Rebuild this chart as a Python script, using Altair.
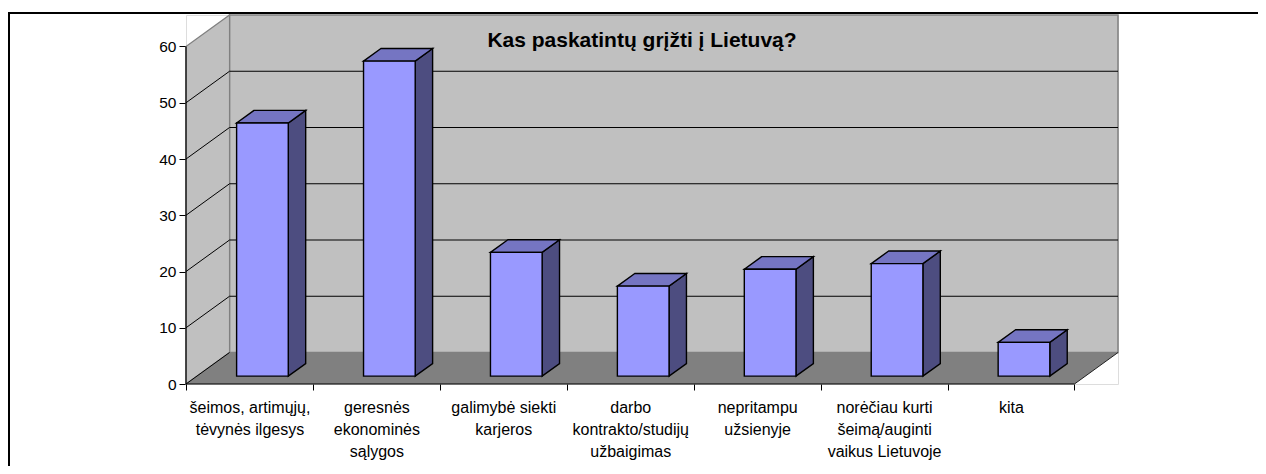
import json
import altair as alt
import pandas as pd

# ---------------- data ----------------
categories = [
    ["šeimos, artimųjų,", "tėvynės ilgesys"],
    ["geresnės", "ekonominės", "sąlygos"],
    ["galimybė siekti", "karjeros"],
    ["darbo", "kontrakto/studijų", "užbaigimas"],
    ["nepritampu", "užsienyje"],
    ["norėčiau kurti", "šeimą/auginti", "vaikus Lietuvoje"],
    ["kita"],
]
values = [45, 56, 22, 16, 19, 20, 6]
y_ticks = [0, 10, 20, 30, 40, 50, 60]
title_text = "Kas paskatintų grįžti į Lietuvą?"

# ---------------- 3-D geometry (in data units) ----------------
N = len(values)
YMAX = y_ticks[-1]
DX, DY = 0.343, 5.6          # depth of the box in category / value units
F0, F1 = 0.25, 0.65          # bar depth span (fraction of box depth)
BL, BR = 0.313, 0.72         # bar front face inside a category
W, H = 932, 369

FRONT = "#9999FF"
TOP = "#7575C2"
SIDE = "#4D4D80"
WALL = "#C0C0C0"
FLOOR = "#808080"
FONT = "Liberation Sans"

xscale = alt.Scale(domain=[0, N + DX], nice=False, zero=False)
yscale = alt.Scale(domain=[0, YMAX + DY], nice=False, zero=False)

label_arr = json.dumps(categories, ensure_ascii=False)
xaxis = alt.Axis(
    values=[i / 2 for i in range(2 * N + 1)],
    labelExpr=f"datum.value % 1 != 0 ? {label_arr}[floor(datum.value)] : ''",
    tickOpacity={"condition": {"test": "datum.value % 1 == 0", "value": 1}, "value": 0},
    title=None, grid=False, domain=False, ticks=True, tickSize=6, tickColor="#000",
    labelFontSize=16, labelLineHeight=22, labelPadding=9, labelBaseline="top",
    labelColor="#000", labelFont=FONT, labelOverlap=False, labelBound=False, labelFlush=False,
)
yaxis = alt.Axis(
    values=y_ticks, title=None, grid=False, domain=False, tickSize=7, tickColor="#000",
    labelFontSize=15.5, labelPadding=3, labelColor="#000", labelFont=FONT,
)


def X(f):
    return alt.X(f, type="quantitative", scale=xscale, axis=xaxis, stack=None)


def Y(f):
    return alt.Y(f, type="quantitative", scale=yscale, axis=yaxis, stack=None)


# ---------------- tables built from the arrays ----------------
dep = (F1 - F0)
front = pd.DataFrame({
    "xl": [i + BL + F0 * DX for i in range(N)],
    "xr": [i + BR + F0 * DX for i in range(N)],
    "yb": [F0 * DY] * N,
    "yt": [v + F0 * DY for v in values],
})
side_rows, top_rows = [], []
for i, v in enumerate(values):
    xr = i + BR + F0 * DX
    xl = i + BL + F0 * DX
    side_rows.append({"bar": i, "x": xr, "lo": F0 * DY, "hi": v + F0 * DY})
    side_rows.append({"bar": i, "x": xr + dep * DX, "lo": F1 * DY, "hi": v + F1 * DY})
    top_rows.append({"bar": i, "y": v + F0 * DY, "xa": xl, "xb": xr})
    top_rows.append({"bar": i, "y": v + F1 * DY, "xa": xl + dep * DX, "xb": xr + dep * DX})
side = pd.DataFrame(side_rows)
top = pd.DataFrame(top_rows)

back_wall = pd.DataFrame({"x": [DX], "x2": [N + DX], "y": [DY], "y2": [YMAX + DY]})
left_wall = pd.DataFrame({"x": [0, DX], "lo": [0, DY], "hi": [YMAX, YMAX + DY]})
floor = pd.DataFrame({"y": [0, DY], "xa": [0, DX], "xb": [N, N + DX]})
back_grid = pd.DataFrame({"x": [DX] * 5, "x2": [N + DX] * 5, "y": [k + DY for k in y_ticks[1:-1]]})
side_grid = pd.DataFrame({"x": [0] * 6, "x2": [DX] * 6, "y": y_ticks[:-1],
                          "y2": [k + DY for k in y_ticks[:-1]]})
floor_edge = pd.DataFrame({"x": [N], "x2": [N + DX], "y": [0], "y2": [DY]})
x_line = pd.DataFrame({"x": [0], "x2": [N], "y": [0]})
y_line = pd.DataFrame({"x": [0], "y": [0], "y2": [YMAX]})

layers = [
    alt.Chart(back_wall).mark_rect(fill=WALL, stroke=FLOOR, strokeWidth=1.5).encode(
        x=X("x"), x2=alt.X2("x2"), y=Y("y"), y2=alt.Y2("y2")),
    alt.Chart(left_wall).mark_area(fill=WALL, stroke=FLOOR, strokeWidth=1.2, interpolate="linear").encode(
        x=X("x"), y=Y("hi"), y2=alt.Y2("lo")),
    alt.Chart(floor).mark_area(orient="horizontal", fill=FLOOR, interpolate="linear").encode(
        y=Y("y"), x=X("xa"), x2=alt.X2("xb")),
    alt.Chart(back_grid).mark_rule(color="#000", strokeWidth=1).encode(
        x=X("x"), x2=alt.X2("x2"), y=Y("y")),
    alt.Chart(side_grid).mark_rule(color="#000", strokeWidth=1).encode(
        x=X("x"), x2=alt.X2("x2"), y=Y("y"), y2=alt.Y2("y2")),
    alt.Chart(floor_edge).mark_rule(color="#222", strokeWidth=1).encode(
        x=X("x"), x2=alt.X2("x2"), y=Y("y"), y2=alt.Y2("y2")),
    alt.Chart(side).mark_area(fill=SIDE, stroke="#000", strokeWidth=1.4, interpolate="linear").encode(
        x=X("x"), y=Y("hi"), y2=alt.Y2("lo"), detail="bar:N"),
    alt.Chart(top).mark_area(orient="horizontal", fill=TOP, stroke="#000", strokeWidth=1.4,
                             interpolate="linear").encode(
        y=Y("y"), x=X("xa"), x2=alt.X2("xb"), detail="bar:N"),
    alt.Chart(front).mark_rect(fill=FRONT, stroke="#000", strokeWidth=1.4).encode(
        x=X("xl"), x2=alt.X2("xr"), y=Y("yb"), y2=alt.Y2("yt")),
    alt.Chart(x_line).mark_rule(color="#000", strokeWidth=1.2).encode(
        x=X("x"), x2=alt.X2("x2"), y=Y("y")),
    alt.Chart(y_line).mark_rule(color="#000", strokeWidth=1.2).encode(
        x=X("x"), y=Y("y"), y2=alt.Y2("y2")),
    # outer frame of the chart object
    alt.Chart(alt.Data(values=[{}])).mark_rect(filled=False, stroke="#000", strokeWidth=2).encode(
        x=alt.value(-177), x2=alt.value(1300), y=alt.value(-2), y2=alt.value(700)),
]

chart = alt.layer(*layers).properties(
    width=W,
    height=H,
    autosize=alt.AutoSizeParams(type="none"),
    padding={"left": 178, "top": 7, "right": 140, "bottom": 82},
    title=alt.TitleParams(
        text=title_text, font=FONT, fontSize=21, fontWeight="bold", color="#000",
        anchor="middle", frame="group", baseline="alphabetic", offset=0, dx=-10, dy=56,
    ),
).configure_view(strokeWidth=0).configure(background="white")

chart.save("out.html", embed_options={"renderer": "svg", "actions": False})
